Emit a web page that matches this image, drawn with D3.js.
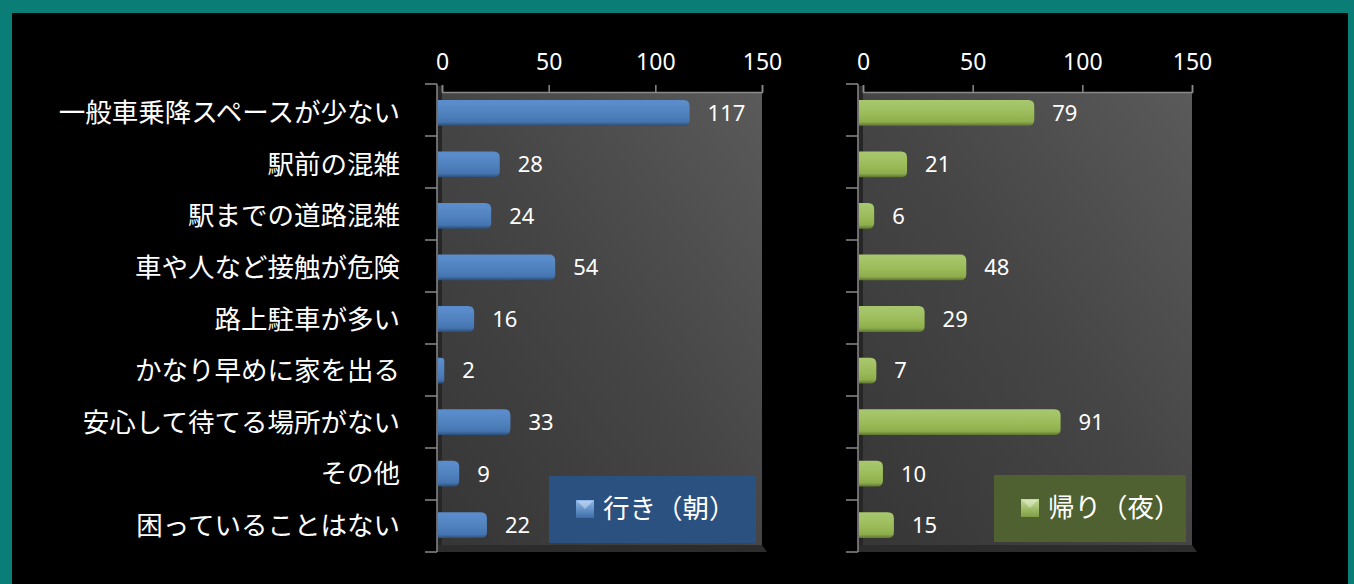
<!DOCTYPE html>
<html><head><meta charset="utf-8">
<script src="https://cdn.jsdelivr.net/npm/d3@7"></script>
<style>
html,body{margin:0;padding:0;background:#000;}
svg{display:block;}
</style></head>
<body>
<svg id="c" width="1354" height="584"></svg>
<script>
const categories = ["一般車乗降スペースが少ない","駅前の混雑","駅までの道路混雑","車や人など接触が危険","路上駐車が多い","かなり早めに家を出る","安心して待てる場所がない","その他","困っていることはない"];
const morning = [117,28,24,54,16,2,33,9,22];
const evening = [79,21,6,48,29,7,91,10,15];
const tickValues = [0,50,100,150];
const seriesNames = ["行き（朝）","帰り（夜）"];

const svg = d3.select("#c");
const W = 1354, H = 584;
// teal frame
svg.append("rect").attr("width",W).attr("height",H).attr("fill","#0b7d77");
svg.append("rect").attr("x",12).attr("y",13).attr("width",W-12-6).attr("height",H-13).attr("fill","#000");

const defs = svg.append("defs");
function lin(id, x1,y1,x2,y2, stops){
  const g = defs.append("linearGradient").attr("id",id).attr("x1",x1).attr("y1",y1).attr("x2",x2).attr("y2",y2);
  stops.forEach(s=>g.append("stop").attr("offset",s[0]).attr("stop-color",s[1]));
}
lin("wall","0","1","1","0",[[0,"#363636"],[0.5,"#454545"],[1,"#5a5a5a"]]);
lin("barB","0","0","0","1",[[0,"#5b8ccb"],[0.15,"#5a8bca"],[0.55,"#4f81bd"],[0.85,"#4575b0"],[1,"#2c4e78"]]);
lin("barG","0","0","0","1",[[0,"#a9c86e"],[0.15,"#a5c56a"],[0.55,"#9bbb59"],[0.85,"#8eae4d"],[1,"#5e7530"]]);
lin("mkB","0","0","0","1",[[0,"#8fb8ea"],[1,"#3d6ea8"]]);
lin("mkG","0","0","0","1",[[0,"#c6df98"],[1,"#7f9e44"]]);

const y = d3.scaleBand().domain(categories).range([87,551]).paddingInner(0.5).paddingOuter(0.25);
const tickY = d3.scaleLinear().domain([0,categories.length]).range([84,552]);

function panel(opts){
  const {x0,x1,axisX,data,fill,legend,legendColor,marker,name} = opts;
  const x = d3.scaleLinear().domain([0,150]).range([x0,x1]);
  const g = svg.append("g");
  const top = 92, bottom = 545;
  // side wall strip
  g.append("rect").attr("x",axisX).attr("y",top-6).attr("width",x0-axisX).attr("height",bottom-top+6).attr("fill","#262626");
  // back wall
  g.append("rect").attr("x",x0).attr("y",top).attr("width",x1-x0).attr("height",bottom-top).attr("fill","url(#wall)");
  // floor
  g.append("path").attr("d",`M${axisX},${bottom} L${x1},${bottom} L${x1+5},${bottom+7} L${axisX},${bottom+7} Z`).attr("fill","#2c2c2c");
  // top axis
  const ax = g.append("g").attr("transform",`translate(0,${top})`)
    .call(d3.axisTop(x).tickValues(tickValues).tickSize(7).tickPadding(15));
  ax.select(".domain").attr("stroke","#8a8a8a").attr("stroke-width",1.5);
  ax.selectAll(".tick line").attr("stroke","#8a8a8a").attr("stroke-width",1.5);
  ax.selectAll(".tick text").attr("fill","#fff").attr("font-size",23).attr("font-family","'Noto Sans', 'Open Sans', sans-serif");
  // left axis
  g.append("line").attr("x1",axisX).attr("x2",axisX).attr("y1",tickY(0)).attr("y2",tickY(categories.length)).attr("stroke","#8a8a8a").attr("stroke-width",1.5);
  d3.range(categories.length+1).forEach(i=>{
    g.append("line").attr("x1",axisX-12).attr("x2",axisX).attr("y1",tickY(i)).attr("y2",tickY(i)).attr("stroke","#8a8a8a").attr("stroke-width",1.5);
  });
  // bars
  g.selectAll(".bar").data(categories).join("path").attr("class","bar")
    .attr("d",(c,i)=>{
      const xs = x(0)-4, xe = Math.max(x(data[i])-2, x(0)+2), yt = y(c), h = y.bandwidth(), r = Math.min(6,(xe-xs)/2);
      return `M${xs},${yt} L${xe-r},${yt} Q${xe},${yt} ${xe},${yt+r} L${xe},${yt+h-r} Q${xe},${yt+h} ${xe-r},${yt+h} L${xs},${yt+h} Z`;
    })
    .attr("fill",fill);
  // value labels
  g.selectAll(".val").data(categories).join("text").attr("class","val")
    .attr("x",(c,i)=>Math.max(x(data[i])-2,x(0)+2)+18)
    .attr("y",c=>y(c)+y.bandwidth()/2)
    .attr("dy","0.36em")
    .attr("fill","#fff").attr("font-size",22).attr("font-family","'Noto Sans', 'Open Sans', sans-serif")
    .text((c,i)=>data[i]);
  // legend
  g.append("rect").attr("x",legend[0]).attr("y",legend[1]).attr("width",legend[2]).attr("height",legend[3]).attr("fill",legendColor);
  const mx = legend[0]+27, my = legend[1]+24;
  g.append("rect").attr("x",mx).attr("y",my).attr("width",18).attr("height",18).attr("fill",marker);
  g.append("path").attr("d",`M${mx+1},${my+1} L${mx+17},${my+1} L${mx+9},${my+9} Z`).attr("fill","#fff").attr("opacity",0.35);
  g.append("text").attr("x",mx+27).attr("y",my+8).attr("dy","0.36em").attr("fill","#fff")
    .attr("font-size",26.5).attr("font-family","'Noto Sans CJK JP', sans-serif").text(name);
}

panel({x0:442,x1:762,axisX:437,data:morning,fill:"url(#barB)",legend:[549,476,207,67],legendColor:"#2a5180",marker:"url(#mkB)",name:seriesNames[0]});
panel({x0:863,x1:1192,axisX:858,data:evening,fill:"url(#barG)",legend:[994,475,192,67],legendColor:"#4f6130",marker:"url(#mkG)",name:seriesNames[1]});

// category labels
svg.selectAll(".cat").data(categories).join("text").attr("class","cat")
  .attr("x",400).attr("y",c=>y(c)+y.bandwidth()/2).attr("dy","0.36em")
  .attr("text-anchor","end").attr("fill","#fff").attr("font-size",26.5)
  .attr("font-family","'Noto Sans CJK JP', sans-serif").text(c=>c);
</script>
</body></html>
